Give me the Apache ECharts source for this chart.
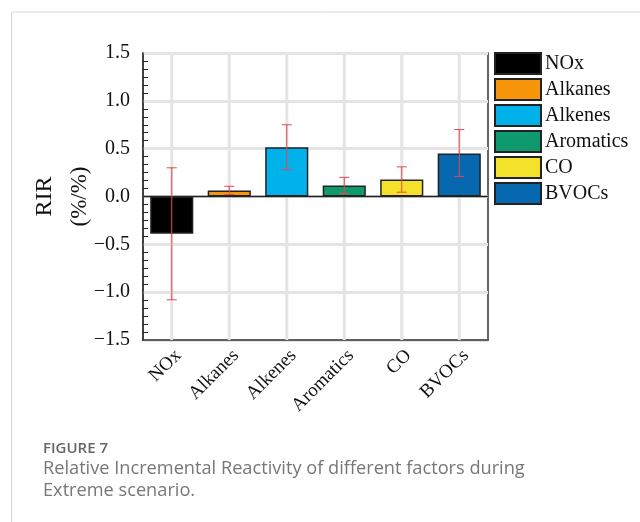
<!DOCTYPE html>
<html><head><meta charset="utf-8">
<script src="https://cdn.jsdelivr.net/npm/echarts@6/dist/echarts.min.js"></script>
<style>html,body{margin:0;padding:0;background:#fff}#c{width:640px;height:522px}</style>
</head><body><div id="c"></div>
<script>
var categories = ['NOx','Alkanes','Alkenes','Aromatics','CO','BVOCs'];
var values = [-0.39, 0.063, 0.515, 0.115, 0.178, 0.45];
var errLow = [-1.08, 0.02, 0.28, 0.03, 0.045, 0.21];
var errHigh = [0.30, 0.107, 0.75, 0.20, 0.31, 0.70];
var colors = ['#000000','#f7960b','#00b1ea','#0e9a6c','#f4e22a','#0768b0'];
var yTicks = [-1.5, -1.0, -0.5, 0.0, 0.5, 1.0, 1.5];

var serif = 'Liberation Serif';
var chart = echarts.init(document.getElementById('c'), null, {renderer:'canvas'});

var barSeries = categories.map(function(name, i){
  return {
    type:'bar', name:name, z:3,
    barWidth:'75%', barGap:'-100%',
    itemStyle:{color:colors[i], borderColor:'#222', borderWidth:1.5},
    data: categories.map(function(c,j){ return j===i ? values[i] : '-'; })
  };
});

var gridSeries = {
  type:'custom', z:1, silent:true,
  data: categories.map(function(c,i){ return [i]; }),
  renderItem:function(params, api){
    var i = api.value(0);
    var top = api.coord([i, yTicks[yTicks.length-1]]);
    var bot = api.coord([i, yTicks[0]]);
    return {type:'line', shape:{x1:top[0],y1:top[1],x2:bot[0],y2:bot[1]}, style:{stroke:'#e4e4e4', lineWidth:3}};
  }
};

var zeroSeries = {
  type:'custom', z:4, silent:true,
  data:[[0]],
  renderItem:function(params, api){
    var cs = params.coordSys;
    var p = api.coord([0, 0]);
    return {type:'line', shape:{x1:cs.x,y1:p[1],x2:cs.x+cs.width,y2:p[1]}, style:{stroke:'#222', lineWidth:1.5}};
  }
};

var errSeries = {
  type:'custom', z:5, silent:true,
  data: categories.map(function(c,i){ return [i, errLow[i], errHigh[i]]; }),
  renderItem:function(params, api){
    var i = api.value(0);
    var lo = api.coord([i, api.value(1)]);
    var hi = api.coord([i, api.value(2)]);
    var w = 5;
    var st = {stroke:'#e8474f', lineWidth:1};
    return {type:'group', children:[
      {type:'line', shape:{x1:lo[0],y1:lo[1],x2:hi[0],y2:hi[1]}, style:st},
      {type:'line', shape:{x1:lo[0]-w,y1:lo[1],x2:lo[0]+w,y2:lo[1]}, style:st},
      {type:'line', shape:{x1:hi[0]-w,y1:hi[1],x2:hi[0]+w,y2:hi[1]}, style:st}
    ]};
  }
};

chart.setOption({
  animation:false,
  backgroundColor:'#fff',
  grid:{left:143, right:152, top:53, bottom:182, show:true, borderColor:'#333', borderWidth:1.5, backgroundColor:'transparent'},
  legend:{
    orient:'vertical', left:494, top:52, padding:0, itemWidth:46, itemHeight:21, itemGap:3,
    icon:'rect', selectedMode:false,
    textStyle:{fontFamily:serif, fontSize:20, color:'#111', padding:[0,0,0,-1]},
    data:categories
  },
  xAxis:{
    type:'category', data:categories,
    axisLine:{onZero:false, lineStyle:{color:'#333', width:1.5}},
    axisTick:{inside:true, alignWithLabel:true, length:10, lineStyle:{color:'#222', width:1.5}},
    axisLabel:{rotate:45, fontFamily:serif, fontSize:19, color:'#111', margin:6, align:'right', verticalAlign:'top', interval:0},
    splitLine:{show:false}
  },
  yAxis:{
    type:'value', min:yTicks[0], max:yTicks[yTicks.length-1], interval:0.5,
    name:'{a|RIR}\n{b|(%/%)}', nameLocation:'middle', nameRotate:90, nameGap:46, nameMoveOverlap:false,
    nameTextStyle:{rich:{
      a:{fontFamily:serif, fontSize:24, color:'#111', lineHeight:35, align:'center'},
      b:{fontFamily:serif, fontSize:23, color:'#111', lineHeight:35, align:'center'}
    }},
    axisLine:{show:true, lineStyle:{color:'#333', width:1.5}},
    axisTick:{inside:true, length:10, lineStyle:{color:'#222', width:1.5}},
    minorTick:{show:true, splitNumber:6, length:5, lineStyle:{color:'#222', width:1}},
    axisLabel:{fontFamily:serif, fontSize:20, color:'#111', margin:13,
      formatter:function(v){ var s = Math.abs(v).toFixed(1); return v < 0 ? '\u2212' + s : s; }},
    splitLine:{show:true, lineStyle:{color:'#e4e4e4', width:3}}
  },
  graphic:[
    {type:'rect', shape:{x:11.5, y:12, width:700, height:600}, style:{fill:'none', stroke:'#d6d6d6', lineWidth:1}, z:-10, silent:true},
    {type:'text', left:43, top:441, style:{text:'FIGURE 7', font:'600 15px "Open Sans"', fill:'#666'}},
    {type:'text', left:43, top:460, style:{text:'Relative Incremental Reactivity of different factors during', font:'18.2px "Open Sans"', fill:'#777'}},
    {type:'text', left:43, top:482, style:{text:'Extreme scenario.', font:'18.2px "Open Sans"', fill:'#777'}}
  ],
  series:[gridSeries].concat(barSeries, [zeroSeries, errSeries])
});
</script></body></html>
